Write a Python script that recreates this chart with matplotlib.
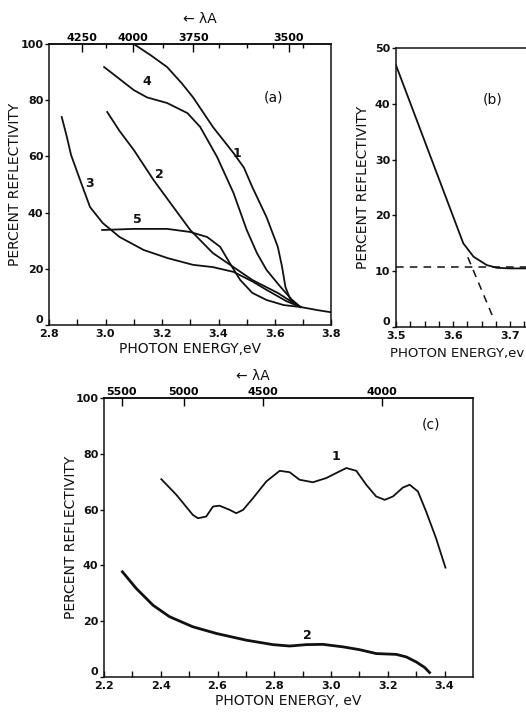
import numpy as np
import matplotlib
matplotlib.use("Agg")
from matplotlib import pyplot as plt
from matplotlib import transforms
from matplotlib.ticker import FixedLocator

plt.rcParams['font.family'] = ['DejaVu Sans']

# ---- panel (a) : reflectivity vs photon energy, five samples
a1_e = [3.10, 3.16, 3.218, 3.27, 3.31, 3.38, 3.453, 3.49, 3.52, 3.57, 3.61, 3.625, 3.637, 3.655, 3.684, 3.69]
a1_r = [100, 96, 91.8, 86, 81, 70.5, 61.2, 56, 49, 38.4, 27.8, 20.7, 13.5, 8.9, 6.8, 6.4]
a2_e = [3.006, 3.05, 3.10, 3.17, 3.24, 3.30, 3.38, 3.453, 3.52, 3.61, 3.666, 3.69]
a2_r = [75.8, 69, 62.3, 51.6, 42, 33.8, 25.6, 20.6, 16, 11.4, 7.8, 6.4]
a3_e = [2.845, 2.863, 2.878, 2.91, 2.945, 2.99, 3.05, 3.135, 3.22, 3.31, 3.38, 3.453, 3.52, 3.57, 3.64, 3.69]
a3_r = [74, 67.0, 60.5, 51.6, 42, 36.3, 31.3, 26.7, 23.8, 21.4, 20.6, 18.9, 15.5, 12.5, 8.5, 6.4]
a4_e = [2.995, 3.04, 3.10, 3.147, 3.218, 3.29, 3.335, 3.395, 3.453, 3.50, 3.536, 3.57, 3.62, 3.66, 3.69]
a4_r = [91.8, 88.3, 83.6, 81, 79, 75.4, 70.5, 59.8, 47, 33.8, 25.6, 19.6, 13.5, 9.0, 6.4]
a5_e = [2.988, 3.10, 3.218, 3.30, 3.36, 3.406, 3.44, 3.477, 3.52, 3.57, 3.63, 3.69]
a5_r = [33.8, 34.2, 34.2, 33.1, 31.3, 27.8, 22, 16, 11.4, 8.9, 7.1, 6.4]
tail_e = [3.69, 3.75, 3.80]
tail_r = [6.4, 5.3, 4.5]
a_lam_labels = ['4250', '4000', '3750', '3500']
a_lam_pos = [2.917, 3.098, 3.311, 3.648]
a_lam_minor = [3.002, 3.204, 3.40, 3.502, 3.594, 3.70]

# ---- panel (b)
b_e = [3.5, 3.618, 3.636, 3.659, 3.677, 3.70, 3.80]
b_r = [46.9, 15.0, 12.6, 11.1, 10.6, 10.5, 10.5]
b_base = 10.7
b_ext_e = [3.626, 3.670]
b_ext_r = [12.5, 1.8]

# ---- panel (c)
c1_e = [2.402, 2.455, 2.513, 2.531, 2.56, 2.584, 2.607, 2.643, 2.666, 2.69, 2.725, 2.772,
        2.819, 2.854, 2.889, 2.936, 2.983, 3.018, 3.054, 3.089, 3.124, 3.159, 3.189, 3.218,
        3.253, 3.277, 3.306, 3.335, 3.37, 3.403]
c1_r = [70.9, 65.3, 58.1, 56.9, 57.5, 61.1, 61.4, 59.9, 58.7, 59.9, 64.1, 70.1,
        73.9, 73.4, 70.7, 69.8, 71.3, 73.1, 74.9, 73.9, 68.9, 64.7, 63.5, 64.7,
        67.9, 68.9, 66.5, 59.3, 49.7, 39.2]
c2_e = [2.265, 2.314, 2.373, 2.431, 2.513, 2.596, 2.701, 2.795, 2.854, 2.913, 2.971, 3.042,
        3.10, 3.159, 3.23, 3.265, 3.30, 3.33, 3.347]
c2_r = [37.7, 31.7, 25.7, 21.6, 18.0, 15.6, 13.2, 11.6, 11.1, 11.6, 11.7, 10.8,
        9.8, 8.4, 8.1, 7.2, 5.4, 3.4, 1.6]
c_lam_labels = ['5500', '5000', '4500', '4000']
c_lam_pos = [2.263, 2.481, 2.761, 3.179]

ink = '#111111'
fig = plt.figure(figsize=(5.26, 7.13), dpi=100)

def style(ax):
    for s in ax.spines.values():
        s.set_linewidth(1.1)
        s.set_color(ink)
    ax.tick_params(axis='x', direction='in', length=4, width=1, pad=3, labelsize=8, colors=ink)
    ax.tick_params(axis='y', direction='out', length=3, width=1, pad=1, labelsize=8, colors=ink)
    for t in ax.get_xticklabels() + ax.get_yticklabels():
        t.set_fontweight('bold')
    # lift the "0" a little so it clears the first energy label
    zero = ax.get_yticklabels()[0]
    zero.set_transform(zero.get_transform() + transforms.ScaledTranslation(0, 4 / 72, fig.dpi_scale_trans))

def top_axis(ax, pos, labels, minor=None):
    top = ax.secondary_xaxis('top')
    top.set_xticks(pos)
    top.set_xticklabels(labels, fontsize=8, fontweight='bold')
    if minor is not None:
        top.xaxis.set_minor_locator(FixedLocator(minor))
    top.tick_params(axis='x', which='major', direction='in', length=6, width=1, pad=1)
    top.tick_params(axis='x', which='minor', direction='in', length=3, width=1)
    top.spines['top'].set_linewidth(1.1)
    return top

# (a)
ax = fig.add_axes([0.0932, 0.5442, 0.537, 0.3941])
for e, r in [(a1_e, a1_r), (a2_e, a2_r), (a3_e, a3_r), (a4_e, a4_r), (a5_e, a5_r), (tail_e, tail_r)]:
    ax.plot(e, r, color=ink, lw=1.3)
ax.set_xlim(2.8, 3.8)
ax.set_ylim(0, 100)
ax.set_xticks(np.arange(2.8, 3.81, 0.1))
ax.set_xticklabels(['2.8', '', '3.0', '', '3.2', '', '3.4', '', '3.6', '', '3.8'])
ax.set_yticks(np.arange(0, 101, 20))
style(ax)
top_axis(ax, a_lam_pos, a_lam_labels, a_lam_minor)
ax.set_ylabel('PERCENT REFLECTIVITY', fontsize=10, color=ink)
ax.yaxis.set_label_coords(-0.095, 0.5)
ax.set_xlabel('PHOTON ENERGY,eV', fontsize=10, color=ink)
ax.xaxis.set_label_coords(0.5, -0.06)
ax.text(3.335, 109, '\u2190 \u03bbA', fontsize=10, ha='center', va='center', color=ink)
for lab, x, y in [('1', 3.467, 61), ('4', 3.147, 86.5), ('2', 3.19, 53.4), ('3', 2.943, 50.5), ('5', 3.113, 37.4)]:
    ax.text(x, y, lab, fontsize=9, fontweight='bold', ha='center', va='center', color=ink)
ax.text(3.595, 80.8, '(a)', fontsize=10, ha='center', va='center', color=ink)

# (b) - runs past the right edge of the page, as in the scan
bx = fig.add_axes([0.7529, 0.5414, 0.325, 0.3913])
bx.plot(b_e, b_r, color=ink, lw=1.3)
bx.axhline(b_base, color=ink, lw=1.1, ls=(0, (5, 4)))
bx.plot(b_ext_e, b_ext_r, color=ink, lw=1.1, ls=(0, (5, 4)))
bx.set_xlim(3.5, 3.8)
bx.set_ylim(0, 50)
bx.set_xticks(np.arange(3.5, 3.801, 0.025))
bx.set_xticklabels(['3.5', '', '', '', '3.6', '', '', '', '3.7', '', '', '', ''])
bx.set_yticks(np.arange(0, 51, 10))
style(bx)
bx.set_ylabel('PERCENT REFLECTIVITY', fontsize=10, color=ink)
bx.yaxis.set_label_coords(-0.15, 0.5)
bx.text(-0.035, -0.095, 'PHOTON ENERGY,ev', transform=bx.transAxes, fontsize=9.5,
        ha='left', va='center', color=ink)
bx.text(3.67, 40.7, '(b)', fontsize=10, ha='center', va='center', color=ink)

# (c)
cx = fig.add_axes([0.1977, 0.0505, 0.7015, 0.3913])
cx.plot(c1_e, c1_r, color=ink, lw=1.3)
cx.plot(c2_e, c2_r, color=ink, lw=2.0)
cx.set_xlim(2.2, 3.5)
cx.set_ylim(0, 100)
cx.set_xticks(np.arange(2.2, 3.41, 0.1))
cx.set_xticklabels(['2.2', '', '2.4', '', '2.6', '', '2.8', '', '3.0', '', '3.2', '', '3.4'])
cx.set_yticks(np.arange(0, 101, 20))
style(cx)
top_axis(cx, c_lam_pos, c_lam_labels)
cx.set_ylabel('PERCENT REFLECTIVITY', fontsize=10, color=ink)
cx.yaxis.set_label_coords(-0.07, 0.5)
cx.set_xlabel('PHOTON ENERGY, eV', fontsize=10, color=ink)
cx.xaxis.set_label_coords(0.5, -0.062)
cx.text(2.723, 108, '\u2190 \u03bbA', fontsize=10, ha='center', va='center', color=ink)
cx.text(3.018, 79, '1', fontsize=9, fontweight='bold', ha='center', va='center', color=ink)
cx.text(2.915, 15, '2', fontsize=9, fontweight='bold', ha='center', va='center', color=ink)
cx.text(3.353, 90.4, '(c)', fontsize=10, ha='center', va='center', color=ink)

fig.savefig('out.png', dpi=100)
